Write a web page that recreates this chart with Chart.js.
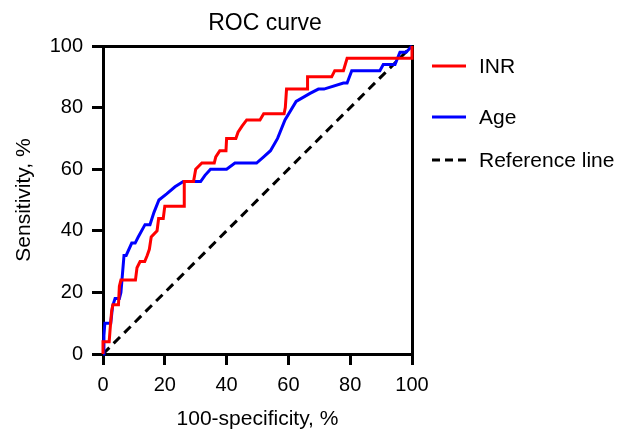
<!DOCTYPE html>
<html>
<head>
<meta charset="utf-8">
<script src="https://cdn.jsdelivr.net/npm/chart.js@4/dist/chart.umd.min.js"></script>
<style>
html,body{margin:0;padding:0;background:#fff}
#wrap{width:630px;height:430px;position:relative}
</style>
</head>
<body>
<div id="wrap"><canvas id="roc"></canvas></div>
<script>
// ── data ──
const inrFpr =[0,0,2,2.3,2.8,3.2,5,5.3,5.8,10.5,11,12,13.5,14.3,15,15.6,17.5,18,19.5,20,26.3,26.3,29.3,30,32,36,36.5,37.8,39.8,40,43,43.7,45,46.5,50.8,52,58.6,59,59.4,66.2,66.2,74,75,77.8,79,100,100];
const inrSens=[0,4,4,8,14,16,16,22,24,24,28,30,30,32,34,38,40,44,44,48,48,56,56,60,62,62,64,66,66,70,70,72,74,76,76,78,78,80,86,86,90,90,92,92,96,96,100];
const ageFpr =[0,0.3,0.6,2.5,3.1,3.9,5.3,5.8,6.8,7.5,9.3,10.4,11.4,13.6,15.2,16.5,18.1,20.6,23.3,26,31.6,33,34.8,40,42.7,49.7,52,54.2,56.5,58.9,62.5,67,69.7,71.5,77.8,79,80.5,89.6,90.7,94.5,96.1,98.1,100];
const ageSens=[0,6,10,10,15.5,18,18,20,32,32,36,36,38,42,42,46,50,52,54.3,56,56,58,60,60,62,62,64,66,70,76,82,84.6,86,86,88,88,92,92,94,94,98,98,100];
const refFpr =[0,100];
const refSens=[0,100];
const axisTicks=[0,20,40,60,80,100];

const FONT='"Liberation Sans", Arial, Helvetica, sans-serif';
const pts=(xs,ys)=>xs.map((x,i)=>({x,y:ys[i]}));

const series=[
  {label:'INR',data:pts(inrFpr,inrSens),color:'#ff0000',dash:[]},
  {label:'Age',data:pts(ageFpr,ageSens),color:'#0000ff',dash:[]},
  {label:'Reference line',data:pts(refFpr,refSens),color:'#000000',dash:[9,6]}
];

// title + legend painted by hand so they sit exactly where the original has them
const decor={
  id:'decor',
  afterDraw(chart){
    const c=chart.ctx;
    c.save();
    c.fillStyle='#000';
    c.font='23px '+FONT;
    c.textAlign='center';c.textBaseline='middle';
    c.fillText('ROC curve',265,24);
    const rows=[66,117,160];
    c.font='21px '+FONT;c.textAlign='left';
    series.forEach((s,i)=>{
      const y=rows[i];
      c.beginPath();c.strokeStyle=s.color;c.lineWidth=3;c.setLineDash(s.dash.length?[8,5]:[]);
      c.moveTo(432,y);c.lineTo(466,y);c.stroke();
      c.setLineDash([]);
      c.fillText(s.label,479,y+1);
    });
    c.restore();
  }
};

const tickSet=s=>{s.ticks=axisTicks.map(v=>({value:v}));};
const mainGrid={drawOnChartArea:false,drawTicks:true,tickLength:11,color:'#000',lineWidth:3};
const edgeAxis=(pos)=>({type:'linear',position:pos,min:0,max:100,
  ticks:{display:false},grid:{display:false,drawTicks:false},
  border:{display:true,color:'#000',width:3},
  afterFit(s){if(pos==='top')s.height=0;else s.width=0;}});

new Chart(document.getElementById('roc'),{
  type:'scatter',
  data:{datasets:series.map(s=>({label:s.label,data:s.data,showLine:true,borderColor:s.color,backgroundColor:s.color,
    borderWidth:3,borderDash:s.dash,pointRadius:0,pointHoverRadius:0,tension:0,clip:6}))},
  options:{
    responsive:true,maintainAspectRatio:false,animation:false,
    layout:{padding:{left:0,top:46,right:218,bottom:0}},
    plugins:{legend:{display:false},title:{display:false},tooltip:{enabled:false}},
    scales:{
      x:{type:'linear',position:'bottom',min:0,max:100,afterBuildTicks:tickSet,
        ticks:{color:'#000',padding:8,font:{family:FONT,size:20}},
        grid:mainGrid,border:{display:true,color:'#000',width:3},
        title:{display:true,text:'100-specificity, %',color:'#000',font:{family:FONT,size:21,lineHeight:1},padding:{top:0,bottom:0.5}},
        afterFit(s){s.height=76;}},
      y:{type:'linear',position:'left',min:0,max:100,afterBuildTicks:tickSet,
        ticks:{color:'#000',padding:9,font:{family:FONT,size:20}},
        grid:mainGrid,border:{display:true,color:'#000',width:3},
        title:{display:true,text:'Sensitivity, %',color:'#000',font:{family:FONT,size:21,lineHeight:1.2},padding:{top:11.4,bottom:0}},
        afterFit(s){s.width=103;}},
      xTop:edgeAxis('top'),
      yRight:edgeAxis('right')
    }
  },
  plugins:[decor]
});
</script>
</body>
</html>
